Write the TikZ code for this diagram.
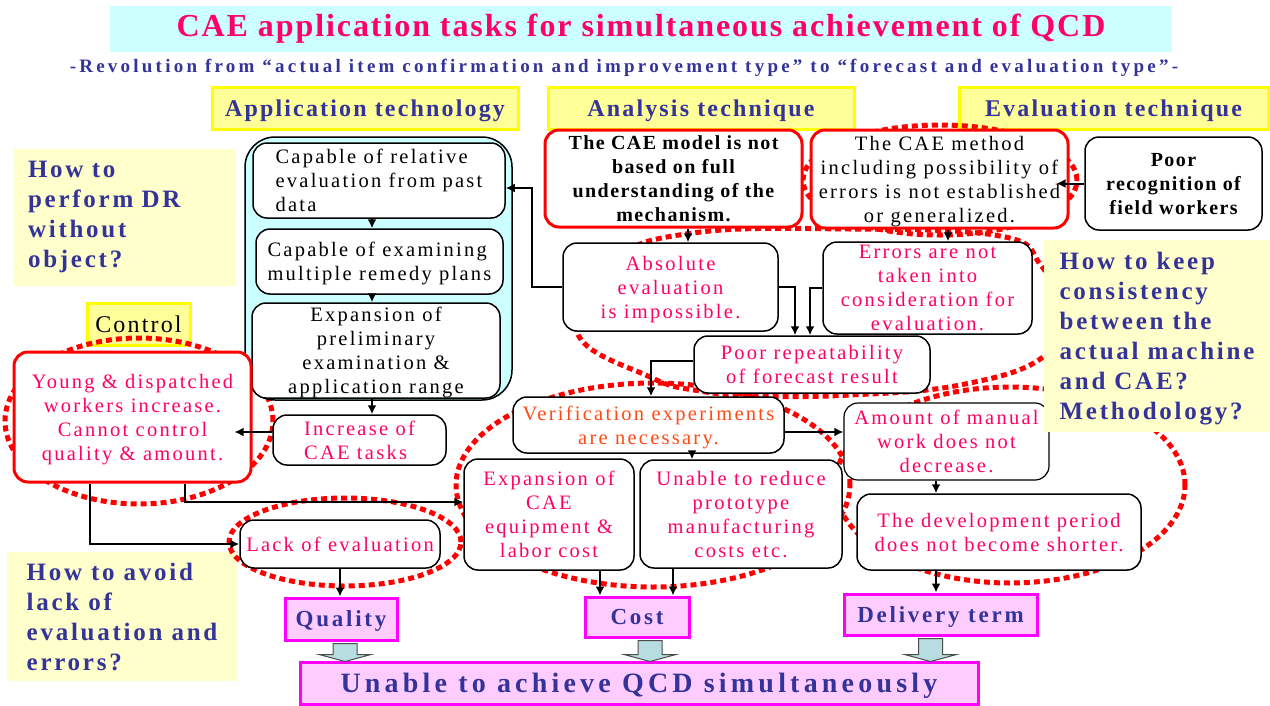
\documentclass[tikz,border=0pt]{standalone}
\usepackage{fontspec}
\usetikzlibrary{arrows.meta,calc}
\setmainfont{Liberation Serif}[LetterSpace=11]
\newfontfamily\titlefont{Liberation Serif}[LetterSpace=6]
\newfontfamily\subfont{Liberation Serif}[LetterSpace=17]
\newfontfamily\headfont{Liberation Serif}[LetterSpace=9]
\newfontfamily\askfont{Liberation Serif}[LetterSpace=11]
\newfontfamily\qcdfont{Liberation Serif}[LetterSpace=12]
\newfontfamily\finalfont{Liberation Serif}[LetterSpace=15]
\newfontfamily\boldboxfont{Liberation Serif}[LetterSpace=7]
\definecolor{titlepink}{HTML}{FF0066}
\definecolor{navy}{HTML}{333399}
\definecolor{cyanfill}{HTML}{CCFFFF}
\definecolor{yellowfill}{HTML}{FFFF99}
\definecolor{yellowline}{HTML}{FFFF00}
\definecolor{paleyellow}{HTML}{FFFFCC}
\definecolor{boxred}{HTML}{FF0000}
\definecolor{textpink}{HTML}{FF0066}
\definecolor{textorange}{HTML}{FF4A14}
\definecolor{magentaline}{HTML}{FF00FF}
\definecolor{pinkfill}{HTML}{FFCCFF}
\definecolor{arrowfill}{HTML}{B7DDE0}
\begin{document}
\begin{tikzpicture}[x=1pt, y=-1pt, >={Latex[length=9pt,width=9pt]}]
    % Define styles
    \tikzstyle{banner} = [rectangle, fill=cyanfill, inner sep=0pt, text=titlepink, font=\titlefont\fontsize{32}{36}\selectfont\bfseries]
    \tikzstyle{head} = [rectangle, draw=yellowline, line width=3pt, fill=yellowfill, minimum height=42pt, inner sep=0pt, text depth=-3pt, text=navy, font=\headfont\fontsize{24}{28}\selectfont\bfseries]
    \tikzstyle{ask} = [rectangle, fill=paleyellow, inner sep=0pt, align=left, text=navy, font=\askfont\fontsize{25}{30}\selectfont\bfseries]
    \tikzstyle{box} = [rectangle, rounded corners=14pt, draw=black, line width=1.5pt, fill=white, inner sep=0pt, text depth=-3pt, align=center, font=\fontsize{20.5}{24}\selectfont]
    \tikzstyle{redbox} = [box, draw=boxred, line width=3pt]
    \tikzstyle{qcd} = [rectangle, draw=magentaline, line width=3pt, fill=pinkfill, inner sep=0pt, text depth=-3pt, text=navy, font=\qcdfont\fontsize{23}{26}\selectfont\bfseries]
    \tikzstyle{ring} = [draw=boxred, line width=5pt, dash pattern=on 6pt off 4pt]
    \tikzstyle{arrow} = [line width=2pt, ->]
    \tikzstyle{blockarrow} = [draw=black!70, line width=1pt, fill=arrowfill]
    \useasboundingbox (0,0) rectangle (1270,705);

    % Headings
    \node [banner, minimum width=1062pt, minimum height=46pt] (title) at (641,29) {CAE application tasks for simultaneous achievement of QCD};
    \node [text=navy, font=\subfont\fontsize{19}{21}\selectfont\bfseries] (subtitle) at (624,68) {-Revolution from “actual item confirmation and improvement type” to “forecast and evaluation type”-};
    \node [head, minimum width=306pt] (apptech) at (365,108) {Application technology};
    \node [head, minimum width=306pt] (anatech) at (701,108) {Analysis technique};
    \node [head, minimum width=309pt] (evatech) at (1113.5,108) {Evaluation technique};
    \node [ask, minimum width=222pt, minimum height=137pt, text width=194pt] (askdr) at (125,217) {How to\\perform DR\\without\\object?};
    \node [ask, text depth=-3pt, minimum width=230pt, minimum height=129pt] (askavoid) at (122,616.5) {How to avoid\\lack of\\evaluation and\\errors?};
    \node [head, minimum width=103pt, text=black, font=\headfont\fontsize{24}{28}\selectfont] (control) at (138.5,324) {Control};

    % Dotted rings
    \draw [ring] (139,421) ellipse [x radius=134pt, y radius=83pt];
    \draw [ring] (345,542) ellipse [x radius=116pt, y radius=44pt];
    \draw [ring] (940,180) ellipse [x radius=137pt, y radius=55pt];
    \draw [ring] (653,485) ellipse [x radius=197pt, y radius=102pt];
    \draw [ring] (1010,485) ellipse [x radius=175pt, y radius=98pt];
    \draw [ring] plot [smooth cycle, tension=0.7] coordinates {(577,332) (612,262) (693,233) (850,229) (1000,236) (1040,264) (1058,310) (1043,357) (960,385) (850,395) (760,396) (700,391) (650,377)};

    % Application technology
    \node [box, rounded corners=30pt, fill=cyanfill, minimum width=267pt, minimum height=263pt] (apppanel) at (378.5,268.5) {};
    \node [box, align=left, minimum width=252pt, minimum height=75pt] (relative) at (379,180.5) {Capable of relative\\evaluation from past\\data};
    \node [box, align=left, minimum width=247pt, minimum height=65pt] (remedy) at (379.5,261.5) {Capable of examining\\multiple remedy plans};
    \node [box, minimum width=248pt, minimum height=95pt] (prelim) at (376,350.5) {Expansion of\\preliminary\\examination \&\\application range};
    \node [box, align=left, text=textpink, minimum width=173pt, minimum height=50pt] (tasks) at (359.5,440) {Increase of\\CAE tasks};
    \node [redbox, text=textpink, minimum width=237pt, minimum height=130pt] (young) at (132.5,417) {Young \& dispatched\\workers increase.\\Cannot control\\quality \& amount.};
    \node [box, text=textpink, minimum width=200pt, minimum height=48pt] (lack) at (340,544) {Lack of evaluation};

    % Analysis and evaluation technique
    \node [redbox, font=\boldboxfont\fontsize{20}{24}\selectfont\bfseries, minimum width=257pt, minimum height=97pt] (model) at (673.5,178.5) {The CAE model is not\\based on full\\understanding of the\\mechanism.};
    \node [redbox, minimum width=257pt, minimum height=98pt] (method) at (939.5,179) {The CAE method\\including possibility of\\errors is not established\\or generalized.};
    \node [box, font=\boldboxfont\fontsize{20}{24}\selectfont\bfseries, minimum width=177pt, minimum height=93pt] (recog) at (1173.5,183.5) {Poor\\recognition of\\field workers};
    \node [box, text=textpink, minimum width=215pt, minimum height=88pt] (absolute) at (670.5,287) {Absolute\\evaluation\\is impossible.};
    \node [box, text=textpink, minimum width=209pt, minimum height=92pt] (errors) at (927.5,288) {Errors are not\\taken into\\consideration for\\evaluation.};
    \node [box, text=textpink, minimum width=236pt, minimum height=57pt] (repeat) at (812,364.5) {Poor repeatability\\of forecast result};
    \node [box, text=textorange, minimum width=271pt, minimum height=56pt] (verify) at (648.5,425) {Verification experiments\\are necessary.};
    \node [box, text=textpink, minimum width=170pt, minimum height=111pt] (equip) at (549,514.5) {Expansion of\\CAE\\equipment \&\\labor cost};
    \node [box, text=textpink, minimum width=202pt, minimum height=108pt] (proto) at (741,514) {Unable to reduce\\prototype\\manufacturing\\costs etc.};
    \node [box, text=textpink, line width=1.2pt, minimum width=205pt, minimum height=77pt] (manual) at (946.5,441.5) {Amount of manual\\work does not\\decrease.};
    \node [box, text=textpink, minimum width=284pt, minimum height=76pt] (period) at (999,532) {The development period\\does not become shorter.};
    \node [ask, text depth=-3pt, minimum width=226pt, minimum height=192pt] (askkeep) at (1157,336) {How to keep\\consistency\\between the\\actual machine\\and CAE?\\Methodology?};

    % QCD
    \node [qcd, minimum width=112pt, minimum height=42pt] (quality) at (341,619) {Quality};
    \node [qcd, minimum width=104pt, minimum height=40pt] (cost) at (637,617) {Cost};
    \node [qcd, minimum width=193pt, minimum height=41pt] (deliv) at (940.5,614.5) {Delivery term};
    \node [qcd, minimum width=678pt, minimum height=42pt, text depth=-10pt, font=\finalfont\fontsize{28}{30}\selectfont\bfseries] (final) at (639,683) {Unable to achieve QCD simultaneously};

    % Arrows
    \draw [arrow] ([xshift=-7pt]relative.south) -- ([xshift=-7.5pt]remedy.north);
    \draw [arrow] ([xshift=-7.5pt]remedy.south) -- ([xshift=-4pt]prelim.north);
    \draw [arrow] ([xshift=-4pt]prelim.south) -- ([xshift=12.5pt]tasks.north);
    \draw [arrow] ([yshift=8pt]tasks.west) -- ([xshift=-18pt,yshift=8pt]tasks.west -| young.east);
    \draw [arrow] ([xshift=-42.5pt]young.south) |- (lack.west);
    \draw [arrow] ([xshift=52.5pt]young.south) |- ([yshift=12.5pt]equip.west);
    \draw [arrow] (lack.south) -- (lack.south |- quality.north);
    \draw [arrow] ([xshift=51pt]equip.south) -- ([xshift=51pt]equip.south |- cost.north);
    \draw [arrow] ([xshift=-68pt]proto.south) -- ([xshift=-68pt]proto.south |- cost.north);
    \draw [arrow] ([xshift=14.5pt]model.south) -- ([xshift=14.5pt]model.south |- absolute.north);
    \draw [arrow] ([xshift=8.5pt]method.south) -- ([xshift=8.5pt]method.south |- errors.north);
    \draw [arrow] (recog.west) -- ([xshift=-13pt]recog.west -| method.east);
    \draw [arrow] (absolute.west) -- ++(-30pt,0) |- ([yshift=-7.5pt]relative.east);
    \draw [arrow] (absolute.east) -| ([xshift=-17pt]repeat.north);
    \draw [arrow] (errors.west) -| ([xshift=-2pt]repeat.north);
    \draw [arrow] ([yshift=4pt]repeat.west) -| ([xshift=2.5pt]verify.north);
    \draw [arrow] ([yshift=-7pt]verify.east) -- ([yshift=-7pt]verify.east -| manual.west);
    \draw [arrow] ([xshift=43.5pt]verify.south) -- ([xshift=43.5pt]verify.south |- proto.north);
    \draw [arrow] ([xshift=-10.5pt]manual.south) -- ([xshift=-10.5pt]manual.south |- period.north);
    \draw [arrow] ([xshift=-63pt]period.south) -- ([xshift=-63pt]period.south |- deliv.north);
    \foreach \src/\dx in {quality/4, cost/13, deliv/-10} {
        \coordinate (top) at ($(\src.south)+(\dx,2)$);
        \coordinate (tip) at ($(\src.south |- final.north)+(\dx,1)$);
        \draw [blockarrow] ($(top)+(-12,0)$) -- ($(tip)+(-12,-7)$) -- ($(tip)+(-26,-7)$) -- (tip) -- ($(tip)+(26,-7)$) -- ($(tip)+(12,-7)$) -- ($(top)+(12,0)$) -- cycle;
    }
\end{tikzpicture}
\end{document}
